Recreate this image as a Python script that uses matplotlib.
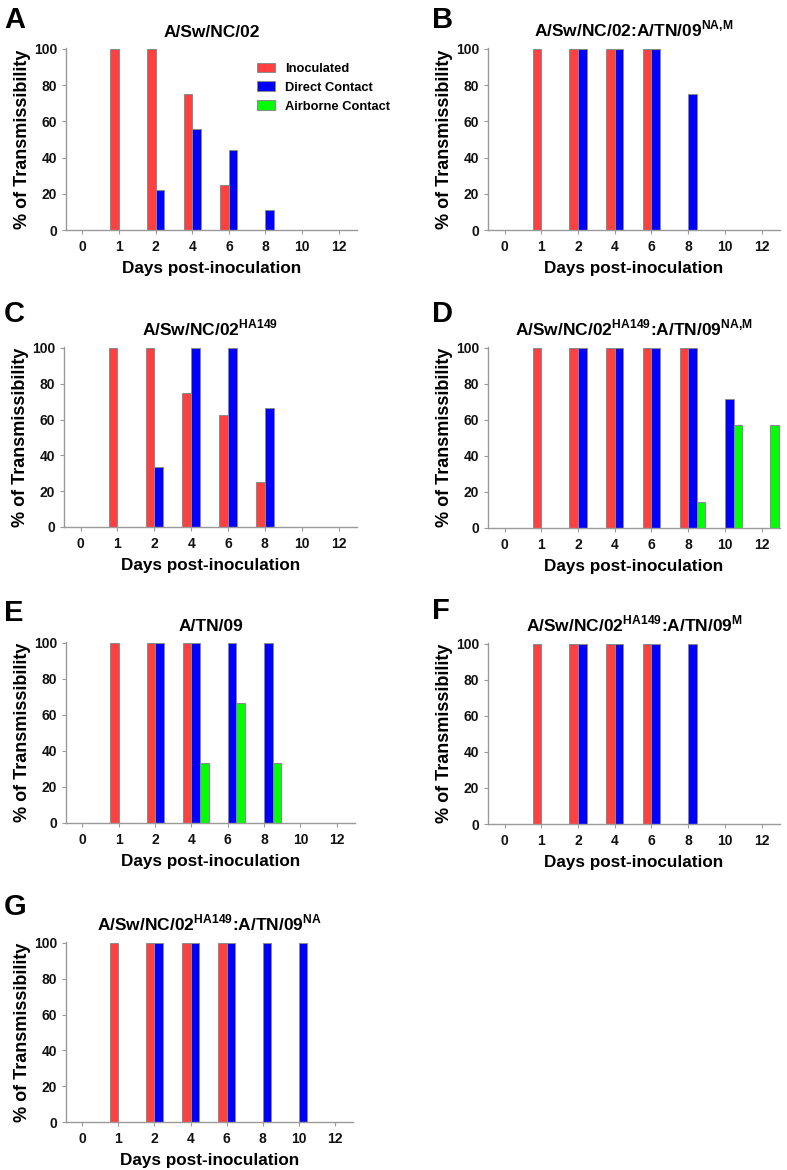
import matplotlib

matplotlib.use("Agg")
import matplotlib.pyplot as plt
from matplotlib.patches import Patch
import numpy as np

plt.rcParams["font.family"] = ["Liberation Sans", "DejaVu Sans"]
plt.rcParams["font.weight"] = "bold"
plt.rcParams["mathtext.fontset"] = "custom"
plt.rcParams["mathtext.rm"] = "Liberation Sans:bold"
plt.rcParams["mathtext.bf"] = "Liberation Sans:bold"

days = ["0", "1", "2", "4", "6", "8", "10", "12"]
y_ticks = [0, 20, 40, 60, 80, 100]
series_names = ["Inoculated", "Direct Contact", "Airborne Contact"]

panel_letters = ["A", "B", "C", "D", "E", "F", "G"]
panel_titles = [
    "A/Sw/NC/02",
    r"A/Sw/NC/02:A/TN/09$^{\mathbf{NA{,}M}}$",
    r"A/Sw/NC/02$^{\mathbf{HA149}}$",
    r"A/Sw/NC/02$^{\mathbf{HA149}}$:A/TN/09$^{\mathbf{NA{,}M}}$",
    "A/TN/09",
    r"A/Sw/NC/02$^{\mathbf{HA149}}$:A/TN/09$^{\mathbf{M}}$",
    r"A/Sw/NC/02$^{\mathbf{HA149}}$:A/TN/09$^{\mathbf{NA}}$",
]

# % transmissibility per day (0, 1, 2, 4, 6, 8, 10, 12)
inoculated_a = [0, 100, 100, 75, 25, 0, 0, 0]
direct_a = [0, 0, 22.2, 55.6, 44.4, 11.1, 0, 0]
airborne_a = [0, 0, 0, 0, 0, 0, 0, 0]

inoculated_b = [0, 100, 100, 100, 100, 0, 0, 0]
direct_b = [0, 0, 100, 100, 100, 75, 0, 0]
airborne_b = [0, 0, 0, 0, 0, 0, 0, 0]

inoculated_c = [0, 100, 100, 75, 62.5, 25, 0, 0]
direct_c = [0, 0, 33.3, 100, 100, 66.7, 0, 0]
airborne_c = [0, 0, 0, 0, 0, 0, 0, 0]

inoculated_d = [0, 100, 100, 100, 100, 100, 0, 0]
direct_d = [0, 0, 100, 100, 100, 100, 71.4, 0]
airborne_d = [0, 0, 0, 0, 0, 14.3, 57.1, 57.1]

inoculated_e = [0, 100, 100, 100, 0, 0, 0, 0]
direct_e = [0, 0, 100, 100, 100, 100, 0, 0]
airborne_e = [0, 0, 0, 33.3, 66.7, 33.3, 0, 0]

inoculated_f = [0, 100, 100, 100, 100, 0, 0, 0]
direct_f = [0, 0, 100, 100, 100, 100, 0, 0]
airborne_f = [0, 0, 0, 0, 0, 0, 0, 0]

inoculated_g = [0, 100, 100, 100, 100, 0, 0, 0]
direct_g = [0, 0, 100, 100, 100, 100, 100, 0]
airborne_g = [0, 0, 0, 0, 0, 0, 0, 0]

panel_data = [
    (inoculated_a, direct_a, airborne_a),
    (inoculated_b, direct_b, airborne_b),
    (inoculated_c, direct_c, airborne_c),
    (inoculated_d, direct_d, airborne_d),
    (inoculated_e, direct_e, airborne_e),
    (inoculated_f, direct_f, airborne_f),
    (inoculated_g, direct_g, airborne_g),
]

COLORS = ["#ff4040", "#0000ff", "#00ff00"]
EDGE = "#8a8a8a"
AXIS_GRAY = "#9a9a9a"
W, H = 787, 1170

# axes boxes in pixels: (left, top, right, bottom)
boxes = [
    (66, 48, 357, 230),
    (488, 48, 780, 230),
    (64, 347, 357, 527),
    (488, 347, 780, 528),
    (66, 642, 355, 823),
    (488, 643, 780, 824),
    (66, 942, 353, 1122),
]
letter_pos = [(4, 28), (432, 28), (4, 322), (432, 322), (4, 621), (432, 619), (4, 915)]

fig = plt.figure(figsize=(W / 100, H / 100), dpi=100)
bar_w = 0.235
x = np.arange(len(days))

for k, (data, title) in enumerate(zip(panel_data, panel_titles)):
    l, t, r, b = boxes[k]
    ax = fig.add_axes([l / W, 1 - b / H, (r - l) / W, (b - t) / H])
    for s, vals in enumerate(data):
        vals = np.array(vals, dtype=float)
        mask = vals > 0
        ax.bar(x[mask] + (s - 0.5) * bar_w, vals[mask], width=bar_w,
               color=COLORS[s], edgecolor=EDGE, linewidth=0.7)
    ax.set_xlim(-0.45, 7.5)
    ax.set_ylim(0, 100.5)
    ax.set_xticks(x)
    ax.set_xticklabels(days, fontsize=10)
    ax.set_yticks(y_ticks)
    ax.set_yticklabels([str(v) for v in y_ticks], fontsize=10)
    for side in ["top", "right"]:
        ax.spines[side].set_visible(False)
    for side in ["left", "bottom"]:
        ax.spines[side].set_color(AXIS_GRAY)
        ax.spines[side].set_linewidth(1.0)
    ax.tick_params(axis="both", colors=AXIS_GRAY, labelcolor="#111111", length=3, width=0.8)
    ax.tick_params(axis="x", pad=4)
    ax.set_ylabel("% of Transmissibility", fontsize=13, fontweight="bold", labelpad=2)
    ax.set_xlabel("Days post-inoculation", fontsize=12.3, fontweight="bold", labelpad=5)
    ax.set_title(title, fontsize=12.5, fontweight="bold", pad=8)

    lx, ly = letter_pos[k]
    fig.text(lx / W, 1 - ly / H, panel_letters[k], fontsize=21, fontweight="bold",
             ha="left", va="baseline")

    if k == 0:
        handles = [Patch(facecolor=c, edgecolor=EDGE, linewidth=0.7) for c in COLORS]
        ax.legend(handles, series_names, loc="upper left", bbox_to_anchor=(0.655, 0.92),
                  frameon=False, fontsize=9.3, handlelength=1.4, handleheight=0.8,
                  handletextpad=0.8, labelspacing=0.5, borderaxespad=0, borderpad=0)

fig.savefig("out.png", dpi=100)
